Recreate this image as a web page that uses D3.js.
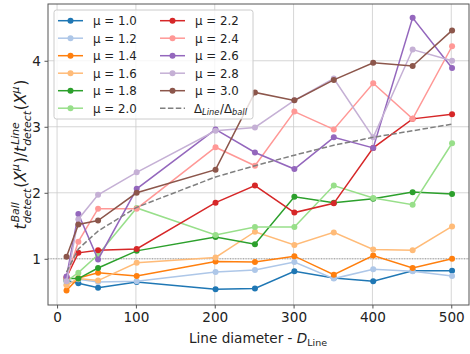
<!DOCTYPE html>
<html>
<head>
<meta charset="utf-8">
<script src="https://cdn.jsdelivr.net/npm/d3@7"></script>
<style>
  body { margin: 0; background: #fff; }
  svg { display: block; font-family: "DejaVu Sans", sans-serif; }
  svg text { white-space: pre; }
</style>
</head>
<body>
<svg id="chart" width="470" height="354"></svg>
<script>
// data
const diameters = [12, 27, 52, 101, 201, 251, 301, 351, 401, 451, 501];
const muLabels = ['1.0', '1.2', '1.4', '1.6', '1.8', '2.0', '2.2', '2.4', '2.6', '2.8', '3.0'];
const mu10 = [0.67, 0.63, 0.56, 0.65, 0.54, 0.55, 0.81, 0.71, 0.66, 0.82, 0.82];
const mu12 = [0.61, 0.69, 0.65, 0.66, 0.80, 0.83, 0.95, 0.70, 0.84, 0.81, 0.74];
const mu14 = [0.52, 0.71, 0.79, 0.74, 0.96, 0.95, 1.04, 0.76, 1.05, 0.86, 1.00];
const mu16 = [0.60, 0.70, 0.67, 0.94, 1.02, 1.41, 1.21, 1.40, 1.14, 1.13, 1.49];
const mu18 = [0.70, 0.70, 0.86, 1.12, 1.33, 1.22, 1.94, 1.85, 1.91, 2.01, 1.98];
const mu20 = [0.66, 0.79, 1.06, 1.77, 1.36, 1.48, 1.48, 2.11, 1.92, 1.82, 2.75];
const mu22 = [0.72, 1.09, 1.13, 1.15, 1.85, 2.11, 1.70, 1.84, 2.68, 3.12, 3.19];
const mu24 = [0.70, 1.26, 1.76, 1.76, 2.69, 2.41, 3.23, 2.96, 3.66, 3.12, 4.22];
const mu26 = [0.73, 1.68, 0.99, 2.06, 2.96, 2.61, 2.36, 2.84, 2.68, 4.65, 3.89];
const mu28 = [0.66, 1.60, 1.97, 2.31, 2.94, 2.99, 3.40, 3.73, 2.84, 4.17, 4.00];
const mu30 = [1.03, 1.52, 1.58, 2.00, 2.35, 3.52, 3.40, 3.71, 3.97, 3.92, 4.46];
const deltaRatio = [0.80, 1.15, 1.42, 1.78, 2.24, 2.41, 2.57, 2.72, 2.84, 2.94, 3.04];
const xTicks = [0, 100, 200, 300, 400, 500];
const yTicks = [1, 2, 3, 4];

const series = [mu10, mu12, mu14, mu16, mu18, mu20, mu22, mu24, mu26, mu28, mu30];
const palette = ['#1f77b4', '#aec7e8', '#ff7f0e', '#ffbb78', '#2ca02c', '#98df8a',
                 '#d62728', '#ff9896', '#9467bd', '#c5b0d5', '#8c564b'];

const svg = d3.select('#chart');
const plot = { left: 48, right: 469, top: 4, bottom: 305 };
const TICK_FS = 13.6;

const x = d3.scaleLinear().domain([-11.5, 522.5]).range([plot.left, plot.right]);
const y = d3.scaleLinear().domain([0.30, 4.86]).range([plot.bottom, plot.top]);

svg.append('rect').attr('width', 470).attr('height', 354).attr('fill', '#fff');

// little mathtext helper: base runs plus stacked sup/sub scripts
function mathText(parent, parts, fs) {
  const g = parent.append('g');
  let cx = 0;
  const put = (str, xx, dy, size, it) => {
    const t = g.append('text')
      .attr('x', xx).attr('y', dy)
      .attr('font-size', size)
      .attr('font-style', it ? 'italic' : null)
      .attr('fill', '#222')
      .text(str);
    return t.node().getComputedTextLength();
  };
  parts.forEach((p) => {
    if (p.t !== undefined) {
      cx += put(p.t, cx, 0, fs, p.it);
    } else {
      const ss = fs * 0.7;
      const both = p.sup && p.sub;
      let w = 0;
      if (p.sup) w = Math.max(w, put(p.sup, cx + (p.kern || 0), -fs * 0.45, ss, p.supIt));
      if (p.sub) w = Math.max(w, put(p.sub, cx, fs * (both ? 0.3 : 0.22), ss, p.subIt));
      cx += w + fs * 0.06;
    }
  });
  return { g, width: cx };
}

// grid
const grid = svg.append('g').attr('stroke', '#cccccc').attr('stroke-width', 0.8);
grid.selectAll('line.gx').data(xTicks).enter().append('line')
  .attr('x1', (d) => x(d)).attr('x2', (d) => x(d))
  .attr('y1', plot.top).attr('y2', plot.bottom);
grid.selectAll('line.gy').data(yTicks).enter().append('line')
  .attr('x1', plot.left).attr('x2', plot.right)
  .attr('y1', (d) => y(d)).attr('y2', (d) => y(d));

// reference line at 1
svg.append('line')
  .attr('x1', plot.left).attr('x2', plot.right)
  .attr('y1', y(1)).attr('y2', y(1))
  .attr('stroke', '#999').attr('stroke-width', 1)
  .attr('stroke-dasharray', '1,1.6');

// series
const line = d3.line().x((d, i) => x(diameters[i])).y((d) => y(d));
series.forEach((vals, k) => {
  const g = svg.append('g');
  g.append('path').datum(vals)
    .attr('d', line)
    .attr('fill', 'none')
    .attr('stroke', palette[k])
    .attr('stroke-width', 1.5);
  g.selectAll('circle').data(vals).enter().append('circle')
    .attr('cx', (d, i) => x(diameters[i]))
    .attr('cy', (d) => y(d))
    .attr('r', 3)
    .attr('fill', palette[k]);
});

svg.append('path').datum(deltaRatio)
  .attr('d', line)
  .attr('fill', 'none')
  .attr('stroke', '#7f7f7f')
  .attr('stroke-width', 1.5)
  .attr('stroke-dasharray', '5.5,2.4');

// axes
const xAxis = svg.append('g')
  .attr('transform', `translate(0,${plot.bottom})`)
  .call(d3.axisBottom(x).tickValues(xTicks).tickSize(3.5).tickPadding(3.5).tickFormat(d3.format('d')));
const yAxis = svg.append('g')
  .attr('transform', `translate(${plot.left},0)`)
  .call(d3.axisLeft(y).tickValues(yTicks).tickSize(3.5).tickPadding(3.5).tickFormat(d3.format('d')));
[xAxis, yAxis].forEach((a) => {
  a.select('.domain').remove();
  a.selectAll('.tick line').attr('stroke', '#555');
  a.selectAll('.tick text')
    .attr('font-size', TICK_FS)
    .attr('font-family', '"DejaVu Sans", sans-serif')
    .attr('fill', '#222');
});

svg.append('rect')
  .attr('x', plot.left).attr('y', plot.top)
  .attr('width', plot.right - plot.left).attr('height', plot.bottom - plot.top)
  .attr('fill', 'none').attr('stroke', '#555').attr('stroke-width', 1);

// x label
const xl = mathText(svg, [
  { t: 'Line diameter - ' },
  { t: 'D', it: true },
  { sub: 'Line' },
], TICK_FS);
xl.g.attr('transform', `translate(${(plot.left + plot.right) / 2 - xl.width / 2},343)`);

// y label
const yWrap = svg.append('g')
  .attr('transform', `translate(26,${(plot.top + plot.bottom) / 2}) rotate(-90)`);
const yl = mathText(yWrap, [
  { t: 't', it: true },
  { sup: 'Ball', sub: 'detect', supIt: true, subIt: true, kern: 1 },
  { t: '(' }, { t: 'X', it: true }, { sup: 'μ', supIt: true }, { t: ')' },
  { t: '/' },
  { t: 't', it: true },
  { sup: 'Line', sub: 'detect', supIt: true, subIt: true, kern: 1 },
  { t: '(' }, { t: 'X', it: true }, { sup: 'μ', supIt: true }, { t: ')' },
], 15.5);
yl.g.attr('transform', `translate(${-yl.width / 2},0)`);

// legend
const LEG_FS = 11.8;
const legend = svg.append('g');
legend.append('rect')
  .attr('x', 54).attr('y', 10).attr('width', 199).attr('height', 109)
  .attr('rx', 2.5)
  .attr('fill', '#fff').attr('fill-opacity', 0.8)
  .attr('stroke', '#cccccc').attr('stroke-width', 1);

const legendItems = muLabels.map((m, k) => ({ label: `μ = ${m}`, color: palette[k], dash: false }))
  .concat([{ label: null, color: '#7f7f7f', dash: true }]);
const colX = [58, 160];
legendItems.forEach((it, k) => {
  const x0 = colX[Math.floor(k / 6)];
  const cy = 20.7 + (k % 6) * 17.5;
  const row = legend.append('g');
  row.append('line')
    .attr('x1', x0).attr('x2', x0 + 25).attr('y1', cy).attr('y2', cy)
    .attr('stroke', it.color).attr('stroke-width', 1.5)
    .attr('stroke-dasharray', it.dash ? '5.5,2.4' : null);
  if (!it.dash) {
    row.append('circle').attr('cx', x0 + 12.5).attr('cy', cy).attr('r', 3).attr('fill', it.color);
    row.append('text')
      .attr('x', x0 + 35).attr('y', cy + 4.3)
      .attr('font-size', LEG_FS).attr('fill', '#222')
      .text(it.label);
  } else {
    const lt = mathText(row, [
      { t: 'Δ' }, { sub: 'Line', subIt: true }, { t: '/' }, { t: 'Δ' }, { sub: 'ball', subIt: true },
    ], LEG_FS);
    lt.g.attr('transform', `translate(${x0 + 34},${cy + 4.3})`);
  }
});
</script>
</body>
</html>
